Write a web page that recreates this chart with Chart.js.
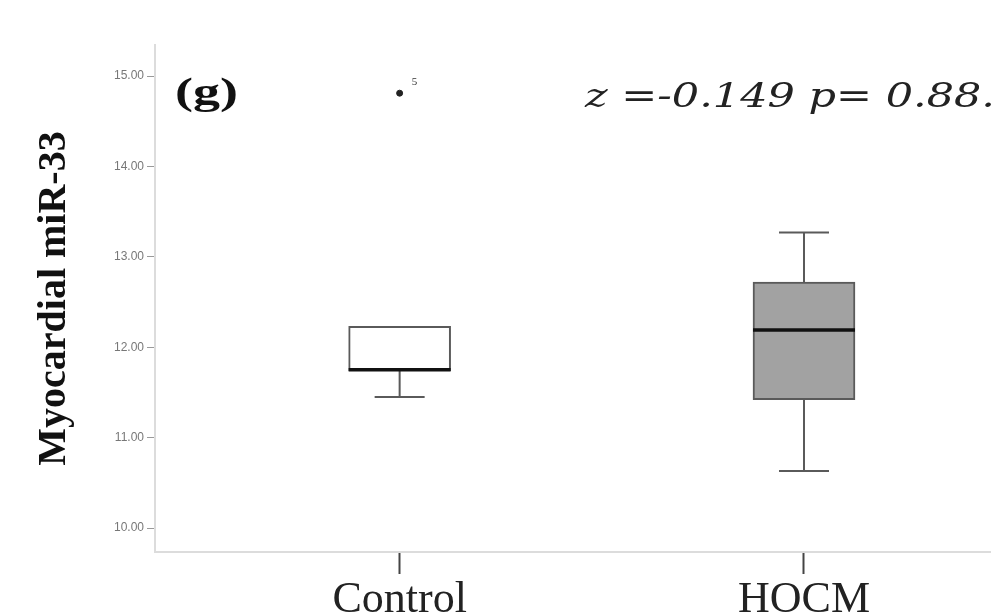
<!DOCTYPE html>
<html><head><meta charset="utf-8">
<script src="https://cdn.jsdelivr.net/npm/chart.js@4.4.0/dist/chart.umd.min.js"></script>
<style>html,body{margin:0;padding:0;background:#fff}#wrap{width:999px;height:616px;position:relative}</style>
</head><body><div id="wrap"><canvas id="c"></canvas></div>
<script>
// ---- data ----
const categories = ['Control', 'HOCM'];
const groupPos = [1, 2];
const whiskerLow = [11.45, 10.63];
const q1 = [11.74, 11.42];
const median = [11.75, 12.19];
const q3 = [12.23, 12.72];
const whiskerHigh = [12.23, 13.27];
const outlierGroup = [1];
const outlierValues = [14.81];
const outlierLabels = ['5'];
const yTicks = [10, 11, 12, 13, 14, 15];
const panelLabel = '(g)';
const statText = 'z =-0.149 p= 0.88.';
const yTitle = 'Myocardial miR-33';

function drawStretched(ctx, text, x, y, font, width, color) {
  ctx.save();
  ctx.font = font;
  ctx.fillStyle = color;
  ctx.textAlign = 'left';
  ctx.textBaseline = 'alphabetic';
  const w = ctx.measureText(text).width;
  ctx.translate(x, y);
  ctx.scale(width / w, 1);
  ctx.fillText(text, 0, 0);
  ctx.restore();
}

const boxPlugin = {
  id: 'boxParts',
  beforeDatasetsDraw(chart) {
    const ctx = chart.ctx, xs = chart.scales.x, ys = chart.scales.y;
    ctx.save();
    ctx.strokeStyle = '#5a5a5a';
    ctx.lineWidth = 2;
    groupPos.forEach((g, i) => {
      const x = xs.getPixelForValue(g);
      const capHalf = 25;
      ctx.beginPath();
      ctx.moveTo(x, ys.getPixelForValue(whiskerLow[i]));
      ctx.lineTo(x, ys.getPixelForValue(q1[i]));
      ctx.moveTo(x, ys.getPixelForValue(q3[i]));
      ctx.lineTo(x, ys.getPixelForValue(whiskerHigh[i]));
      if (whiskerLow[i] < q1[i]) {
        ctx.moveTo(x - capHalf, ys.getPixelForValue(whiskerLow[i]));
        ctx.lineTo(x + capHalf, ys.getPixelForValue(whiskerLow[i]));
      }
      if (whiskerHigh[i] > q3[i]) {
        ctx.moveTo(x - capHalf, ys.getPixelForValue(whiskerHigh[i]));
        ctx.lineTo(x + capHalf, ys.getPixelForValue(whiskerHigh[i]));
      }
      ctx.stroke();
    });
    ctx.restore();
  },
  afterDatasetsDraw(chart) {
    const ctx = chart.ctx, xs = chart.scales.x, ys = chart.scales.y;
    const meta = chart.getDatasetMeta(0);
    ctx.save();
    ctx.strokeStyle = '#111';
    ctx.lineWidth = 3.5;
    groupPos.forEach((g, i) => {
      const bar = meta.data[i];
      const half = bar.width / 2;
      const x = xs.getPixelForValue(g);
      const y = ys.getPixelForValue(median[i]);
      ctx.beginPath();
      ctx.moveTo(x - half, y);
      ctx.lineTo(x + half, y);
      ctx.stroke();
    });
    // outlier labels
    ctx.font = '11px "Liberation Serif"';
    ctx.fillStyle = '#333';
    outlierValues.forEach((v, i) => {
      const x = xs.getPixelForValue(outlierGroup[i]);
      const y = ys.getPixelForValue(v);
      ctx.fillText(outlierLabels[i], x + 12, y - 8);
    });
    ctx.restore();
    drawStretched(ctx, panelLabel, 175, 104, 'bold 38px "Liberation Serif"', 63, '#111');
    drawStretched(ctx, statText, 585, 107, 'italic 34px "DejaVu Serif"', 410, '#222');
  }
};

new Chart(document.getElementById('c'), {
  type: 'bar',
  data: {
    datasets: [
      {
        type: 'bar',
        data: groupPos.map((g, i) => ({ x: g, y: [q1[i], q3[i]] })),
        backgroundColor: ['#ffffff', '#a2a2a2'],
        borderColor: '#5a5a5a',
        borderWidth: 2,
        borderSkipped: false,
        barThickness: 102
      },
      {
        type: 'line',
        data: outlierValues.map((v, i) => ({ x: outlierGroup[i], y: v })),
        showLine: false,
        pointRadius: 3,
        pointBackgroundColor: '#222',
        pointBorderColor: '#222'
      }
    ]
  },
  options: {
    responsive: true,
    maintainAspectRatio: false,
    animation: false,
    layout: { padding: { top: 45, right: 9, left: 0, bottom: 0 } },
    plugins: { legend: { display: false }, tooltip: { enabled: false } },
    scales: {
      x: {
        type: 'linear',
        offset: false,
        min: 0.395,
        max: 2.46,
        afterBuildTicks: s => { s.ticks = groupPos.map(v => ({ value: v })); },
        afterFit: s => { s.height = 64; },
        ticks: {
          callback: (v, i) => categories[i],
          font: { family: 'Liberation Serif', size: 44, lineHeight: 1 },
          color: '#222',
          padding: 4,
          maxRotation: 0,
          autoSkip: false
        },
        grid: { offset: false, drawOnChartArea: false, drawTicks: true, tickLength: 22, tickColor: '#444', tickWidth: 2 },
        border: { display: true, color: '#dcdcdc', width: 2 }
      },
      y: {
        min: 9.735,
        max: 15.343,
        afterBuildTicks: s => { s.ticks = yTicks.map(v => ({ value: v })); },
        afterFit: s => { s.width = 155; },
        ticks: {
          callback: v => Number(v).toFixed(2),
          font: { family: 'Liberation Sans', size: 12 },
          color: '#777',
          padding: 3
        },
        grid: { drawOnChartArea: false, drawTicks: true, tickLength: 8, tickColor: '#999', tickWidth: 1 },
        border: { display: true, color: '#dcdcdc', width: 2 },
        title: {
          display: true,
          text: yTitle,
          font: { family: 'Liberation Serif', size: 40, weight: 'bold', lineHeight: 1 },
          color: '#111',
          padding: { top: 35, bottom: 0 }
        }
      }
    }
  },
  plugins: [boxPlugin]
});
</script>
</body></html>
